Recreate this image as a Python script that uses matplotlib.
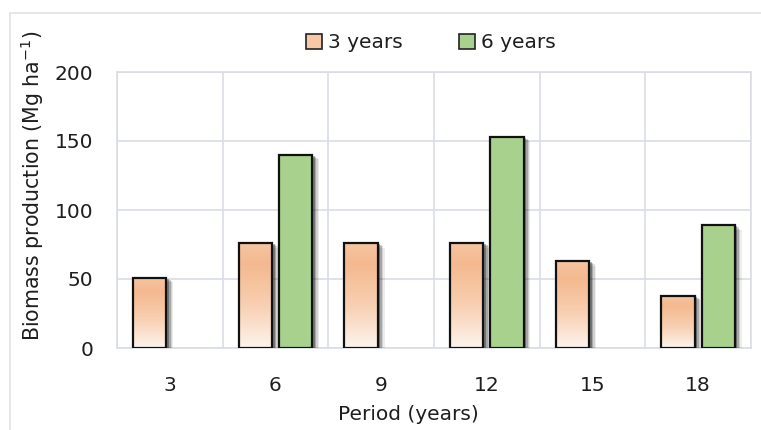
import numpy as np
import matplotlib
matplotlib.use("Agg")
import matplotlib.pyplot as plt
from matplotlib.patches import Rectangle
from matplotlib.colors import LinearSegmentedColormap
import matplotlib.patheffects as pe

periods = ["3", "6", "9", "12", "15", "18"]
rotation_3y = [51, 76, 76, 76, 63, 38]
rotation_6y = [np.nan, 140, np.nan, 153, np.nan, 89]
series_labels = ["3 years", "6 years"]

plt.rcParams["font.family"] = ["DejaVu Sans"]
fig = plt.figure(figsize=(7.61, 4.30), dpi=100)
ax = fig.add_axes([117 / 761, 1 - 348 / 430, (751 - 117) / 761, (348 - 72) / 430])

grid_c = "#dadde6"
text_c = "#1e1e1e"
peach_cmap = LinearSegmentedColormap.from_list(
    "peach", [(0.0, "#fdf4ee"), (0.4, "#f8d0b3"), (0.8, "#f4b98f"), (1.0, "#f5c5a2")])
green = "#a9d18e"

x = np.arange(len(periods))
width = 0.315
offset = 0.19

# soft drop shadow built from a few stacked offset copies
shadow = [pe.SimplePatchShadow(offset=(5.0, -3.2), shadow_rgbFace="#000000", alpha=0.07),
          pe.SimplePatchShadow(offset=(4.0, -2.4), shadow_rgbFace="#000000", alpha=0.12),
          pe.SimplePatchShadow(offset=(3.0, -1.6), shadow_rgbFace="#000000", alpha=0.2),
          pe.SimplePatchShadow(offset=(1.8, -0.9), shadow_rgbFace="#000000", alpha=0.3)]


def draw_shadows(xpos, values):
    sh = ax.bar(xpos, values, width, facecolor="none", edgecolor="none", zorder=3)
    for b in sh:
        b.set_path_effects(shadow)


draw_shadows(x - offset, rotation_3y)
draw_shadows(x + offset, rotation_6y)

grad = np.linspace(0, 1, 256).reshape(-1, 1)
bars3 = ax.bar(x - offset, rotation_3y, width, facecolor="none", edgecolor="#111111",
               linewidth=1.6, zorder=4)
for b in bars3:
    bx, by, bw, bh = b.get_x(), b.get_y(), b.get_width(), b.get_height()
    im = ax.imshow(grad, cmap=peach_cmap, aspect="auto", origin="lower",
                   extent=(bx, bx + bw, by, by + bh), zorder=3.5)
    im.set_clip_path(Rectangle((bx, by), bw, bh, transform=ax.transData))

bars6 = ax.bar(x + offset, rotation_6y, width, facecolor=green, edgecolor="#111111",
               linewidth=1.6, zorder=4)

ax.set_xlim(-0.5, len(periods) - 0.5)
ax.set_ylim(0, 200)
ax.set_yticks([0, 50, 100, 150, 200])
ax.set_xticks(x)
ax.set_xticklabels(periods)
ax.set_xticks(np.arange(-0.5, len(periods)), minor=True)
ax.grid(True, which="major", axis="y", color=grid_c, linewidth=1.2)
ax.grid(True, which="minor", axis="x", color=grid_c, linewidth=1.2)
ax.set_axisbelow(True)
for s in ax.spines.values():
    s.set_color(grid_c)
    s.set_linewidth(1.2)
ax.tick_params(which="both", length=0, labelsize=14.5, colors=text_c)
ax.tick_params(axis="x", pad=20)
ax.tick_params(axis="y", pad=17)

ax.set_xlabel("Period (years)", fontsize=14.5, color=text_c)
ax.set_ylabel("Biomass production (Mg ha$^{-1}$)", fontsize=14.8, color=text_c)
ax.xaxis.set_label_coords((408 - 117) / 634, -(414 - 348) / 276, transform=ax.transAxes)
ax.xaxis.label.set_va("center")
ax.yaxis.set_label_coords((32 - 117) / 634, (348 - 186) / 276, transform=ax.transAxes)
ax.yaxis.label.set_va("center")

legend_handles = [Rectangle((0, 0), 1, 1, facecolor="#f7c7a6", edgecolor="#222222", linewidth=1.2),
                  Rectangle((0, 0), 1, 1, facecolor=green, edgecolor="#222222", linewidth=1.2)]
fig.legend(legend_handles, series_labels, loc="center", bbox_to_anchor=(431 / 761, 1 - 43 / 430),
           ncol=2, frameon=False, fontsize=14.5, handlelength=0.8, handleheight=0.8,
           handletextpad=0.3, columnspacing=2.8, labelcolor=text_c)

border = Rectangle((10 / 761, -0.1), 1.0, 1 - 13 / 430 + 0.1, transform=fig.transFigure,
                   fill=False, edgecolor="#e0e2e8", linewidth=1.2)
fig.patches.append(border)

fig.savefig("out.png", dpi=100)
